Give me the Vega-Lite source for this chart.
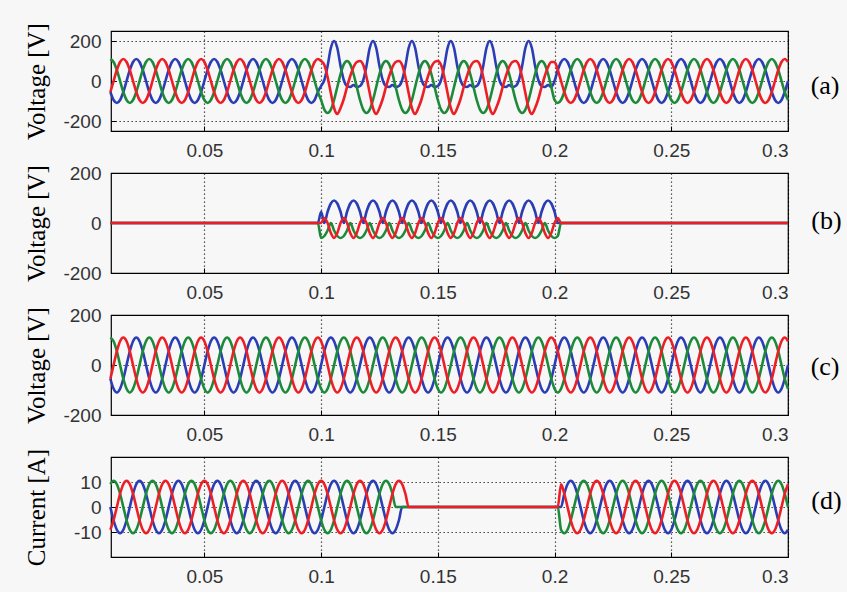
{
"$schema": "https://vega.github.io/schema/vega-lite/v6.json",
"background": "#f7f7f7",
"padding": {"left": 23, "top": 21, "right": 5, "bottom": 5},
"bounds": "flush",
"spacing": 42,
"config": {
  "view": {"stroke": "#000", "strokeWidth": 1.2},
  "axis": {"labelFont": "Liberation Sans", "labelFontSize": 19, "labelColor": "#333", "domain": false, "ticks": true, "tickColor": "#000", "tickSize": -5, "tickWidth": 1, "grid": true, "gridColor": "#000", "gridDash": [1.3, 2.7], "gridWidth": 1.2, "gridOpacity": 0.85, "titleFont": "Liberation Serif", "titleFontSize": 25, "titleFontWeight": "normal", "titleColor": "#000", "labelExpr": "'' + datum.value", "labelPadding": 15},
  "axisY": {"titleX": -62, "titleY": 50},
  "line": {"interpolate": "monotone", "strokeWidth": 2.6, "clip": true},
  "title": {"font": "Liberation Serif", "fontSize": 26, "fontWeight": "normal", "color": "#000", "orient": "right", "angle": 0, "align": "left", "baseline": "middle", "offset": 3, "anchor": "middle", "frame": "group"}
},
"datasets": {
"v": [
{"t":0.00972,"a":-55,"b":110,"c":-55,"g":-55,"h":110,"i":-55,"j":0,"k":9.1,"l":-9.1},
{"t":0.01111,"a":-95,"b":95,"c":0,"g":-95,"h":95,"i":0,"j":-5.3,"k":10.5,"l":-5.3},
{"t":0.0125,"a":-110,"b":55,"c":55,"g":-110,"h":55,"i":55,"j":-9.1,"k":9.1,"l":0},
{"t":0.01389,"a":-95,"b":0,"c":95,"g":-95,"h":0,"i":95,"j":-10.5,"k":5.3,"l":5.3},
{"t":0.01528,"a":-55,"b":-55,"c":110,"g":-55,"h":-55,"i":110,"j":-9.1,"k":0,"l":9.1},
{"t":0.01667,"a":0,"b":-95,"c":95,"g":0,"h":-95,"i":95,"j":-5.3,"k":-5.3,"l":10.5},
{"t":0.01806,"a":55,"b":-110,"c":55,"g":55,"h":-110,"i":55,"j":0,"k":-9.1,"l":9.1},
{"t":0.01944,"a":95,"b":-95,"c":0,"g":95,"h":-95,"i":0,"j":5.3,"k":-10.5,"l":5.3},
{"t":0.02083,"a":110,"b":-55,"c":-55,"g":110,"h":-55,"i":-55,"j":9.1,"k":-9.1,"l":0},
{"t":0.02222,"a":95,"b":0,"c":-95,"g":95,"h":0,"i":-95,"j":10.5,"k":-5.3,"l":-5.3},
{"t":0.02361,"a":55,"b":55,"c":-110,"g":55,"h":55,"i":-110,"j":9.1,"k":0,"l":-9.1},
{"t":0.025,"a":0,"b":95,"c":-95,"g":0,"h":95,"i":-95,"j":5.3,"k":5.3,"l":-10.5},
{"t":0.02639,"a":-55,"b":110,"c":-55,"g":-55,"h":110,"i":-55,"j":0,"k":9.1,"l":-9.1},
{"t":0.02778,"a":-95,"b":95,"c":0,"g":-95,"h":95,"i":0,"j":-5.3,"k":10.5,"l":-5.3},
{"t":0.02917,"a":-110,"b":55,"c":55,"g":-110,"h":55,"i":55,"j":-9.1,"k":9.1,"l":0},
{"t":0.03056,"a":-95,"b":0,"c":95,"g":-95,"h":0,"i":95,"j":-10.5,"k":5.3,"l":5.3},
{"t":0.03194,"a":-55,"b":-55,"c":110,"g":-55,"h":-55,"i":110,"j":-9.1,"k":0,"l":9.1},
{"t":0.03333,"a":0,"b":-95,"c":95,"g":0,"h":-95,"i":95,"j":-5.3,"k":-5.3,"l":10.5},
{"t":0.03472,"a":55,"b":-110,"c":55,"g":55,"h":-110,"i":55,"j":0,"k":-9.1,"l":9.1},
{"t":0.03611,"a":95,"b":-95,"c":0,"g":95,"h":-95,"i":0,"j":5.3,"k":-10.5,"l":5.3},
{"t":0.0375,"a":110,"b":-55,"c":-55,"g":110,"h":-55,"i":-55,"j":9.1,"k":-9.1,"l":0},
{"t":0.03889,"a":95,"b":0,"c":-95,"g":95,"h":0,"i":-95,"j":10.5,"k":-5.3,"l":-5.3},
{"t":0.04028,"a":55,"b":55,"c":-110,"g":55,"h":55,"i":-110,"j":9.1,"k":0,"l":-9.1},
{"t":0.04167,"a":0,"b":95,"c":-95,"g":0,"h":95,"i":-95,"j":5.3,"k":5.3,"l":-10.5},
{"t":0.04306,"a":-55,"b":110,"c":-55,"g":-55,"h":110,"i":-55,"j":0,"k":9.1,"l":-9.1},
{"t":0.04444,"a":-95,"b":95,"c":0,"g":-95,"h":95,"i":0,"j":-5.3,"k":10.5,"l":-5.3},
{"t":0.04583,"a":-110,"b":55,"c":55,"g":-110,"h":55,"i":55,"j":-9.1,"k":9.1,"l":0},
{"t":0.04722,"a":-95,"b":0,"c":95,"g":-95,"h":0,"i":95,"j":-10.5,"k":5.3,"l":5.3},
{"t":0.04861,"a":-55,"b":-55,"c":110,"g":-55,"h":-55,"i":110,"j":-9.1,"k":0,"l":9.1},
{"t":0.05,"a":0,"b":-95,"c":95,"g":0,"h":-95,"i":95,"j":-5.3,"k":-5.3,"l":10.5},
{"t":0.05139,"a":55,"b":-110,"c":55,"g":55,"h":-110,"i":55,"j":0,"k":-9.1,"l":9.1},
{"t":0.05278,"a":95,"b":-95,"c":0,"g":95,"h":-95,"i":0,"j":5.3,"k":-10.5,"l":5.3},
{"t":0.05417,"a":110,"b":-55,"c":-55,"g":110,"h":-55,"i":-55,"j":9.1,"k":-9.1,"l":0},
{"t":0.05556,"a":95,"b":0,"c":-95,"g":95,"h":0,"i":-95,"j":10.5,"k":-5.3,"l":-5.3},
{"t":0.05694,"a":55,"b":55,"c":-110,"g":55,"h":55,"i":-110,"j":9.1,"k":0,"l":-9.1},
{"t":0.05833,"a":0,"b":95,"c":-95,"g":0,"h":95,"i":-95,"j":5.3,"k":5.3,"l":-10.5},
{"t":0.05972,"a":-55,"b":110,"c":-55,"g":-55,"h":110,"i":-55,"j":0,"k":9.1,"l":-9.1},
{"t":0.06111,"a":-95,"b":95,"c":0,"g":-95,"h":95,"i":0,"j":-5.3,"k":10.5,"l":-5.3},
{"t":0.0625,"a":-110,"b":55,"c":55,"g":-110,"h":55,"i":55,"j":-9.1,"k":9.1,"l":0},
{"t":0.06389,"a":-95,"b":0,"c":95,"g":-95,"h":0,"i":95,"j":-10.5,"k":5.3,"l":5.3},
{"t":0.06528,"a":-55,"b":-55,"c":110,"g":-55,"h":-55,"i":110,"j":-9.1,"k":0,"l":9.1},
{"t":0.06667,"a":0,"b":-95,"c":95,"g":0,"h":-95,"i":95,"j":-5.3,"k":-5.3,"l":10.5},
{"t":0.06806,"a":55,"b":-110,"c":55,"g":55,"h":-110,"i":55,"j":0,"k":-9.1,"l":9.1},
{"t":0.06944,"a":95,"b":-95,"c":0,"g":95,"h":-95,"i":0,"j":5.3,"k":-10.5,"l":5.3},
{"t":0.07083,"a":110,"b":-55,"c":-55,"g":110,"h":-55,"i":-55,"j":9.1,"k":-9.1,"l":0},
{"t":0.07222,"a":95,"b":0,"c":-95,"g":95,"h":0,"i":-95,"j":10.5,"k":-5.3,"l":-5.3},
{"t":0.07361,"a":55,"b":55,"c":-110,"g":55,"h":55,"i":-110,"j":9.1,"k":0,"l":-9.1},
{"t":0.075,"a":0,"b":95,"c":-95,"g":0,"h":95,"i":-95,"j":5.3,"k":5.3,"l":-10.5},
{"t":0.07639,"a":-55,"b":110,"c":-55,"g":-55,"h":110,"i":-55,"j":0,"k":9.1,"l":-9.1},
{"t":0.07778,"a":-95,"b":95,"c":0,"g":-95,"h":95,"i":0,"j":-5.3,"k":10.5,"l":-5.3},
{"t":0.07917,"a":-110,"b":55,"c":55,"g":-110,"h":55,"i":55,"j":-9.1,"k":9.1,"l":0},
{"t":0.08056,"a":-95,"b":0,"c":95,"g":-95,"h":0,"i":95,"j":-10.5,"k":5.3,"l":5.3},
{"t":0.08194,"a":-55,"b":-55,"c":110,"g":-55,"h":-55,"i":110,"j":-9.1,"k":0,"l":9.1},
{"t":0.08333,"a":0,"b":-95,"c":95,"g":0,"h":-95,"i":95,"j":-5.3,"k":-5.3,"l":10.5},
{"t":0.08472,"a":55,"b":-110,"c":55,"g":55,"h":-110,"i":55,"j":0,"k":-9.1,"l":9.1},
{"t":0.08611,"a":95,"b":-95,"c":0,"g":95,"h":-95,"i":0,"j":5.3,"k":-10.5,"l":5.3},
{"t":0.0875,"a":110,"b":-55,"c":-55,"g":110,"h":-55,"i":-55,"j":9.1,"k":-9.1,"l":0},
{"t":0.08889,"a":95,"b":0,"c":-95,"g":95,"h":0,"i":-95,"j":10.5,"k":-5.3,"l":-5.3},
{"t":0.09028,"a":55,"b":55,"c":-110,"g":55,"h":55,"i":-110,"j":9.1,"k":0,"l":-9.1},
{"t":0.09167,"a":0,"b":95,"c":-95,"g":0,"h":95,"i":-95,"j":5.3,"k":5.3,"l":-10.5},
{"t":0.09306,"a":-55,"b":110,"c":-55,"g":-55,"h":110,"i":-55,"j":0,"k":9.1,"l":-9.1},
{"t":0.09444,"a":-95,"b":95,"c":0,"g":-95,"h":95,"i":0,"j":-5.3,"k":10.5,"l":-5.3},
{"t":0.09583,"a":-110,"b":55,"c":55,"g":-110,"h":55,"i":55,"j":-9.1,"k":9.1,"l":0},
{"t":0.09722,"a":-95,"b":0,"c":95,"g":-95,"h":0,"i":95,"j":-10.5,"k":5.3,"l":5.3},
{"t":0.09861,"a":-55,"b":-55,"c":110,"g":-55,"h":-55,"i":110,"j":-9.1,"k":0,"l":9.1},
{"t":0.1,"a":-25,"b":-95,"c":100,"g":0,"h":-95,"i":95,"j":-5.3,"k":-5.3,"l":10.5},
{"t":0.10139,"a":5,"b":-143,"c":80,"g":55,"h":-110,"i":55,"j":0,"k":-9.1,"l":9.1},
{"t":0.10278,"a":75,"b":-160,"c":20,"g":95,"h":-95,"i":0,"j":5.3,"k":-10.5,"l":5.3},
{"t":0.10417,"a":165,"b":-143,"c":-60,"g":110,"h":-55,"i":-55,"j":9.1,"k":-9.1,"l":0},
{"t":0.10556,"a":200,"b":-95,"c":-135,"g":95,"h":0,"i":-95,"j":10.5,"k":-5.3,"l":-5.3},
{"t":0.10694,"a":165,"b":-30,"c":-165,"g":55,"h":55,"i":-110,"j":9.1,"k":0,"l":-9.1},
{"t":0.10833,"a":75,"b":35,"c":-135,"g":0,"h":95,"i":-95,"j":5.3,"k":5.3,"l":-10.5},
{"t":0.10972,"a":5,"b":83,"c":-90,"g":-55,"h":110,"i":-55,"j":0,"k":9.1,"l":-9.1},
{"t":0.11111,"a":-25,"b":100,"c":-30,"g":-95,"h":95,"i":0,"j":-5.3,"k":10.5,"l":-5.3},
{"t":0.1125,"a":-30,"b":83,"c":25,"g":-110,"h":55,"i":55,"j":-9.1,"k":9.1,"l":0},
{"t":0.11389,"a":-20,"b":35,"c":70,"g":-95,"h":0,"i":95,"j":-10.5,"k":5.3,"l":5.3},
{"t":0.11528,"a":-30,"b":-30,"c":95,"g":-55,"h":-55,"i":110,"j":-9.1,"k":0,"l":9.1},
{"t":0.11667,"a":-25,"b":-95,"c":100,"g":0,"h":-95,"i":95,"j":-5.3,"k":-5.3,"l":10.5},
{"t":0.11806,"a":5,"b":-143,"c":80,"g":55,"h":-110,"i":55,"j":0,"k":-9.1,"l":9.1},
{"t":0.11944,"a":75,"b":-160,"c":20,"g":95,"h":-95,"i":0,"j":5.3,"k":-10.5,"l":5.3},
{"t":0.12083,"a":165,"b":-143,"c":-60,"g":110,"h":-55,"i":-55,"j":9.1,"k":-9.1,"l":0},
{"t":0.12222,"a":200,"b":-95,"c":-135,"g":95,"h":0,"i":-95,"j":10.5,"k":-5.3,"l":-5.3},
{"t":0.12361,"a":165,"b":-30,"c":-165,"g":55,"h":55,"i":-110,"j":9.1,"k":0,"l":-9.1},
{"t":0.125,"a":75,"b":35,"c":-135,"g":0,"h":95,"i":-95,"j":5.3,"k":5.3,"l":-10.5},
{"t":0.12639,"a":5,"b":83,"c":-90,"g":-55,"h":110,"i":-55,"j":0,"k":9.1,"l":-9.1},
{"t":0.12778,"a":-25,"b":100,"c":-30,"g":-95,"h":95,"i":0,"j":-5.3,"k":10.5,"l":-5.3},
{"t":0.12917,"a":-30,"b":83,"c":25,"g":-110,"h":55,"i":55,"j":-9.1,"k":9.1,"l":0},
{"t":0.13056,"a":-20,"b":35,"c":70,"g":-95,"h":0,"i":95,"j":-10.5,"k":5.3,"l":5.3},
{"t":0.13194,"a":-30,"b":-30,"c":95,"g":-55,"h":-55,"i":110,"j":-9.1,"k":0,"l":9.1},
{"t":0.13333,"a":-25,"b":-95,"c":100,"g":0,"h":-95,"i":95,"j":-5.3,"k":0,"l":10.5},
{"t":0.13472,"a":5,"b":-143,"c":80,"g":55,"h":-110,"i":55,"j":0,"k":0,"l":9.1},
{"t":0.13611,"a":75,"b":-160,"c":20,"g":95,"h":-95,"i":0,"j":0,"k":0,"l":5.3},
{"t":0.1375,"a":165,"b":-143,"c":-60,"g":110,"h":-55,"i":-55,"j":0,"k":0,"l":0},
{"t":0.13889,"a":200,"b":-95,"c":-135,"g":95,"h":0,"i":-95,"j":0,"k":0,"l":0},
{"t":0.14028,"a":165,"b":-30,"c":-165,"g":55,"h":55,"i":-110,"j":0,"k":0,"l":0},
{"t":0.14167,"a":75,"b":35,"c":-135,"g":0,"h":95,"i":-95,"j":0,"k":0,"l":0},
{"t":0.14306,"a":5,"b":83,"c":-90,"g":-55,"h":110,"i":-55,"j":0,"k":0,"l":0},
{"t":0.14444,"a":-25,"b":100,"c":-30,"g":-95,"h":95,"i":0,"j":0,"k":0,"l":0},
{"t":0.14583,"a":-30,"b":83,"c":25,"g":-110,"h":55,"i":55,"j":0,"k":0,"l":0},
{"t":0.14722,"a":-20,"b":35,"c":70,"g":-95,"h":0,"i":95,"j":0,"k":0,"l":0},
{"t":0.14861,"a":-30,"b":-30,"c":95,"g":-55,"h":-55,"i":110,"j":0,"k":0,"l":0},
{"t":0.15,"a":-25,"b":-95,"c":100,"g":0,"h":-95,"i":95,"j":0,"k":0,"l":0},
{"t":0.15139,"a":5,"b":-143,"c":80,"g":55,"h":-110,"i":55,"j":0,"k":0,"l":0},
{"t":0.15278,"a":75,"b":-160,"c":20,"g":95,"h":-95,"i":0,"j":0,"k":0,"l":0},
{"t":0.15417,"a":165,"b":-143,"c":-60,"g":110,"h":-55,"i":-55,"j":0,"k":0,"l":0},
{"t":0.15556,"a":200,"b":-95,"c":-135,"g":95,"h":0,"i":-95,"j":0,"k":0,"l":0},
{"t":0.15694,"a":165,"b":-30,"c":-165,"g":55,"h":55,"i":-110,"j":0,"k":0,"l":0},
{"t":0.15833,"a":75,"b":35,"c":-135,"g":0,"h":95,"i":-95,"j":0,"k":0,"l":0},
{"t":0.15972,"a":5,"b":83,"c":-90,"g":-55,"h":110,"i":-55,"j":0,"k":0,"l":0},
{"t":0.16111,"a":-25,"b":100,"c":-30,"g":-95,"h":95,"i":0,"j":0,"k":0,"l":0},
{"t":0.1625,"a":-30,"b":83,"c":25,"g":-110,"h":55,"i":55,"j":0,"k":0,"l":0},
{"t":0.16389,"a":-20,"b":35,"c":70,"g":-95,"h":0,"i":95,"j":0,"k":0,"l":0},
{"t":0.16528,"a":-30,"b":-30,"c":95,"g":-55,"h":-55,"i":110,"j":0,"k":0,"l":0},
{"t":0.16667,"a":-25,"b":-95,"c":100,"g":0,"h":-95,"i":95,"j":0,"k":0,"l":0},
{"t":0.16806,"a":5,"b":-143,"c":80,"g":55,"h":-110,"i":55,"j":0,"k":0,"l":0},
{"t":0.16944,"a":75,"b":-160,"c":20,"g":95,"h":-95,"i":0,"j":0,"k":0,"l":0},
{"t":0.17083,"a":165,"b":-143,"c":-60,"g":110,"h":-55,"i":-55,"j":0,"k":0,"l":0},
{"t":0.17222,"a":200,"b":-95,"c":-135,"g":95,"h":0,"i":-95,"j":0,"k":0,"l":0},
{"t":0.17361,"a":165,"b":-30,"c":-165,"g":55,"h":55,"i":-110,"j":0,"k":0,"l":0},
{"t":0.175,"a":75,"b":35,"c":-135,"g":0,"h":95,"i":-95,"j":0,"k":0,"l":0},
{"t":0.17639,"a":5,"b":83,"c":-90,"g":-55,"h":110,"i":-55,"j":0,"k":0,"l":0},
{"t":0.17778,"a":-25,"b":100,"c":-30,"g":-95,"h":95,"i":0,"j":0,"k":0,"l":0},
{"t":0.17917,"a":-30,"b":83,"c":25,"g":-110,"h":55,"i":55,"j":0,"k":0,"l":0},
{"t":0.18056,"a":-20,"b":35,"c":70,"g":-95,"h":0,"i":95,"j":0,"k":0,"l":0},
{"t":0.18194,"a":-30,"b":-30,"c":95,"g":-55,"h":-55,"i":110,"j":0,"k":0,"l":0},
{"t":0.18333,"a":-25,"b":-95,"c":100,"g":0,"h":-95,"i":95,"j":0,"k":0,"l":0},
{"t":0.18472,"a":5,"b":-143,"c":80,"g":55,"h":-110,"i":55,"j":0,"k":0,"l":0},
{"t":0.18611,"a":75,"b":-160,"c":20,"g":95,"h":-95,"i":0,"j":0,"k":0,"l":0},
{"t":0.1875,"a":165,"b":-143,"c":-60,"g":110,"h":-55,"i":-55,"j":0,"k":0,"l":0},
{"t":0.18889,"a":200,"b":-95,"c":-135,"g":95,"h":0,"i":-95,"j":0,"k":0,"l":0},
{"t":0.19028,"a":165,"b":-30,"c":-165,"g":55,"h":55,"i":-110,"j":0,"k":0,"l":0},
{"t":0.19167,"a":75,"b":35,"c":-135,"g":0,"h":95,"i":-95,"j":0,"k":0,"l":0},
{"t":0.19306,"a":5,"b":83,"c":-90,"g":-55,"h":110,"i":-55,"j":0,"k":0,"l":0},
{"t":0.19444,"a":-25,"b":100,"c":-30,"g":-95,"h":95,"i":0,"j":0,"k":0,"l":0},
{"t":0.19583,"a":-30,"b":83,"c":25,"g":-110,"h":55,"i":55,"j":0,"k":0,"l":0},
{"t":0.19722,"a":-20,"b":35,"c":70,"g":-95,"h":0,"i":95,"j":0,"k":0,"l":0},
{"t":0.19861,"a":-30,"b":-30,"c":95,"g":-55,"h":-55,"i":110,"j":0,"k":0,"l":0},
{"t":0.2,"a":0,"b":-95,"c":95,"g":0,"h":-95,"i":95,"j":0,"k":0,"l":0},
{"t":0.20139,"a":55,"b":-110,"c":55,"g":55,"h":-110,"i":55,"j":0,"k":0,"l":0},
{"t":0.20278,"a":95,"b":-95,"c":0,"g":95,"h":-95,"i":0,"j":0,"k":-9.1,"l":9.1},
{"t":0.20417,"a":110,"b":-55,"c":-55,"g":110,"h":-55,"i":-55,"j":5.3,"k":-10.5,"l":5.3},
{"t":0.20556,"a":95,"b":0,"c":-95,"g":95,"h":0,"i":-95,"j":9.1,"k":-9.1,"l":0},
{"t":0.20694,"a":55,"b":55,"c":-110,"g":55,"h":55,"i":-110,"j":10.5,"k":-5.3,"l":-5.3},
{"t":0.20833,"a":0,"b":95,"c":-95,"g":0,"h":95,"i":-95,"j":9.1,"k":0,"l":-9.1},
{"t":0.20972,"a":-55,"b":110,"c":-55,"g":-55,"h":110,"i":-55,"j":5.3,"k":5.3,"l":-10.5},
{"t":0.21111,"a":-95,"b":95,"c":0,"g":-95,"h":95,"i":0,"j":0,"k":9.1,"l":-9.1},
{"t":0.2125,"a":-110,"b":55,"c":55,"g":-110,"h":55,"i":55,"j":-5.3,"k":10.5,"l":-5.3},
{"t":0.21389,"a":-95,"b":0,"c":95,"g":-95,"h":0,"i":95,"j":-9.1,"k":9.1,"l":0},
{"t":0.21528,"a":-55,"b":-55,"c":110,"g":-55,"h":-55,"i":110,"j":-10.5,"k":5.3,"l":5.3},
{"t":0.21667,"a":0,"b":-95,"c":95,"g":0,"h":-95,"i":95,"j":-9.1,"k":0,"l":9.1},
{"t":0.21806,"a":55,"b":-110,"c":55,"g":55,"h":-110,"i":55,"j":-5.3,"k":-5.3,"l":10.5},
{"t":0.21944,"a":95,"b":-95,"c":0,"g":95,"h":-95,"i":0,"j":0,"k":-9.1,"l":9.1},
{"t":0.22083,"a":110,"b":-55,"c":-55,"g":110,"h":-55,"i":-55,"j":5.3,"k":-10.5,"l":5.3},
{"t":0.22222,"a":95,"b":0,"c":-95,"g":95,"h":0,"i":-95,"j":9.1,"k":-9.1,"l":0},
{"t":0.22361,"a":55,"b":55,"c":-110,"g":55,"h":55,"i":-110,"j":10.5,"k":-5.3,"l":-5.3},
{"t":0.225,"a":0,"b":95,"c":-95,"g":0,"h":95,"i":-95,"j":9.1,"k":0,"l":-9.1},
{"t":0.22639,"a":-55,"b":110,"c":-55,"g":-55,"h":110,"i":-55,"j":5.3,"k":5.3,"l":-10.5},
{"t":0.22778,"a":-95,"b":95,"c":0,"g":-95,"h":95,"i":0,"j":0,"k":9.1,"l":-9.1},
{"t":0.22917,"a":-110,"b":55,"c":55,"g":-110,"h":55,"i":55,"j":-5.3,"k":10.5,"l":-5.3},
{"t":0.23056,"a":-95,"b":0,"c":95,"g":-95,"h":0,"i":95,"j":-9.1,"k":9.1,"l":0},
{"t":0.23194,"a":-55,"b":-55,"c":110,"g":-55,"h":-55,"i":110,"j":-10.5,"k":5.3,"l":5.3},
{"t":0.23333,"a":0,"b":-95,"c":95,"g":0,"h":-95,"i":95,"j":-9.1,"k":0,"l":9.1},
{"t":0.23472,"a":55,"b":-110,"c":55,"g":55,"h":-110,"i":55,"j":-5.3,"k":-5.3,"l":10.5},
{"t":0.23611,"a":95,"b":-95,"c":0,"g":95,"h":-95,"i":0,"j":0,"k":-9.1,"l":9.1},
{"t":0.2375,"a":110,"b":-55,"c":-55,"g":110,"h":-55,"i":-55,"j":5.3,"k":-10.5,"l":5.3},
{"t":0.23889,"a":95,"b":0,"c":-95,"g":95,"h":0,"i":-95,"j":9.1,"k":-9.1,"l":0},
{"t":0.24028,"a":55,"b":55,"c":-110,"g":55,"h":55,"i":-110,"j":10.5,"k":-5.3,"l":-5.3},
{"t":0.24167,"a":0,"b":95,"c":-95,"g":0,"h":95,"i":-95,"j":9.1,"k":0,"l":-9.1},
{"t":0.24306,"a":-55,"b":110,"c":-55,"g":-55,"h":110,"i":-55,"j":5.3,"k":5.3,"l":-10.5},
{"t":0.24444,"a":-95,"b":95,"c":0,"g":-95,"h":95,"i":0,"j":0,"k":9.1,"l":-9.1},
{"t":0.24583,"a":-110,"b":55,"c":55,"g":-110,"h":55,"i":55,"j":-5.3,"k":10.5,"l":-5.3},
{"t":0.24722,"a":-95,"b":0,"c":95,"g":-95,"h":0,"i":95,"j":-9.1,"k":9.1,"l":0},
{"t":0.24861,"a":-55,"b":-55,"c":110,"g":-55,"h":-55,"i":110,"j":-10.5,"k":5.3,"l":5.3},
{"t":0.25,"a":0,"b":-95,"c":95,"g":0,"h":-95,"i":95,"j":-9.1,"k":0,"l":9.1},
{"t":0.25139,"a":55,"b":-110,"c":55,"g":55,"h":-110,"i":55,"j":-5.3,"k":-5.3,"l":10.5},
{"t":0.25278,"a":95,"b":-95,"c":0,"g":95,"h":-95,"i":0,"j":0,"k":-9.1,"l":9.1},
{"t":0.25417,"a":110,"b":-55,"c":-55,"g":110,"h":-55,"i":-55,"j":5.3,"k":-10.5,"l":5.3},
{"t":0.25556,"a":95,"b":0,"c":-95,"g":95,"h":0,"i":-95,"j":9.1,"k":-9.1,"l":0},
{"t":0.25694,"a":55,"b":55,"c":-110,"g":55,"h":55,"i":-110,"j":10.5,"k":-5.3,"l":-5.3},
{"t":0.25833,"a":0,"b":95,"c":-95,"g":0,"h":95,"i":-95,"j":9.1,"k":0,"l":-9.1},
{"t":0.25972,"a":-55,"b":110,"c":-55,"g":-55,"h":110,"i":-55,"j":5.3,"k":5.3,"l":-10.5},
{"t":0.26111,"a":-95,"b":95,"c":0,"g":-95,"h":95,"i":0,"j":0,"k":9.1,"l":-9.1},
{"t":0.2625,"a":-110,"b":55,"c":55,"g":-110,"h":55,"i":55,"j":-5.3,"k":10.5,"l":-5.3},
{"t":0.26389,"a":-95,"b":0,"c":95,"g":-95,"h":0,"i":95,"j":-9.1,"k":9.1,"l":0},
{"t":0.26528,"a":-55,"b":-55,"c":110,"g":-55,"h":-55,"i":110,"j":-10.5,"k":5.3,"l":5.3},
{"t":0.26667,"a":0,"b":-95,"c":95,"g":0,"h":-95,"i":95,"j":-9.1,"k":0,"l":9.1},
{"t":0.26806,"a":55,"b":-110,"c":55,"g":55,"h":-110,"i":55,"j":-5.3,"k":-5.3,"l":10.5},
{"t":0.26944,"a":95,"b":-95,"c":0,"g":95,"h":-95,"i":0,"j":0,"k":-9.1,"l":9.1},
{"t":0.27083,"a":110,"b":-55,"c":-55,"g":110,"h":-55,"i":-55,"j":5.3,"k":-10.5,"l":5.3},
{"t":0.27222,"a":95,"b":0,"c":-95,"g":95,"h":0,"i":-95,"j":9.1,"k":-9.1,"l":0},
{"t":0.27361,"a":55,"b":55,"c":-110,"g":55,"h":55,"i":-110,"j":10.5,"k":-5.3,"l":-5.3},
{"t":0.275,"a":0,"b":95,"c":-95,"g":0,"h":95,"i":-95,"j":9.1,"k":0,"l":-9.1},
{"t":0.27639,"a":-55,"b":110,"c":-55,"g":-55,"h":110,"i":-55,"j":5.3,"k":5.3,"l":-10.5},
{"t":0.27778,"a":-95,"b":95,"c":0,"g":-95,"h":95,"i":0,"j":0,"k":9.1,"l":-9.1},
{"t":0.27917,"a":-110,"b":55,"c":55,"g":-110,"h":55,"i":55,"j":-5.3,"k":10.5,"l":-5.3},
{"t":0.28056,"a":-95,"b":0,"c":95,"g":-95,"h":0,"i":95,"j":-9.1,"k":9.1,"l":0},
{"t":0.28194,"a":-55,"b":-55,"c":110,"g":-55,"h":-55,"i":110,"j":-10.5,"k":5.3,"l":5.3},
{"t":0.28333,"a":0,"b":-95,"c":95,"g":0,"h":-95,"i":95,"j":-9.1,"k":0,"l":9.1},
{"t":0.28472,"a":55,"b":-110,"c":55,"g":55,"h":-110,"i":55,"j":-5.3,"k":-5.3,"l":10.5},
{"t":0.28611,"a":95,"b":-95,"c":0,"g":95,"h":-95,"i":0,"j":0,"k":-9.1,"l":9.1},
{"t":0.2875,"a":110,"b":-55,"c":-55,"g":110,"h":-55,"i":-55,"j":5.3,"k":-10.5,"l":5.3},
{"t":0.28889,"a":95,"b":0,"c":-95,"g":95,"h":0,"i":-95,"j":9.1,"k":-9.1,"l":0},
{"t":0.29028,"a":55,"b":55,"c":-110,"g":55,"h":55,"i":-110,"j":10.5,"k":-5.3,"l":-5.3},
{"t":0.29167,"a":0,"b":95,"c":-95,"g":0,"h":95,"i":-95,"j":9.1,"k":0,"l":-9.1},
{"t":0.29306,"a":-55,"b":110,"c":-55,"g":-55,"h":110,"i":-55,"j":5.3,"k":5.3,"l":-10.5},
{"t":0.29444,"a":-95,"b":95,"c":0,"g":-95,"h":95,"i":0,"j":0,"k":9.1,"l":-9.1},
{"t":0.29583,"a":-110,"b":55,"c":55,"g":-110,"h":55,"i":55,"j":-5.3,"k":10.5,"l":-5.3},
{"t":0.29722,"a":-95,"b":0,"c":95,"g":-95,"h":0,"i":95,"j":-9.1,"k":9.1,"l":0},
{"t":0.29861,"a":-55,"b":-55,"c":110,"g":-55,"h":-55,"i":110,"j":-10.5,"k":5.3,"l":5.3},
{"t":0.3,"a":0,"b":-95,"c":95,"g":0,"h":-95,"i":95,"j":-9.1,"k":0,"l":9.1}
],
"f": [
{"t":0.00972,"d":0,"e":0,"f":0},
{"t":0.09861,"d":0,"e":0,"f":0},
{"t":0.1,"d":45,"e":-60,"f":0},
{"t":0.10139,"d":0,"e":-52,"f":20},
{"t":0.10278,"d":45,"e":-30,"f":0},
{"t":0.10417,"d":78,"e":0,"f":-40},
{"t":0.10556,"d":90,"e":-30,"f":-60},
{"t":0.10694,"d":78,"e":-52,"f":-40},
{"t":0.10833,"d":45,"e":-60,"f":0},
{"t":0.10972,"d":0,"e":-52,"f":20},
{"t":0.11111,"d":45,"e":-30,"f":0},
{"t":0.1125,"d":78,"e":0,"f":-40},
{"t":0.11389,"d":90,"e":-30,"f":-60},
{"t":0.11528,"d":78,"e":-52,"f":-40},
{"t":0.11667,"d":45,"e":-60,"f":0},
{"t":0.11806,"d":0,"e":-52,"f":20},
{"t":0.11944,"d":45,"e":-30,"f":0},
{"t":0.12083,"d":78,"e":0,"f":-40},
{"t":0.12222,"d":90,"e":-30,"f":-60},
{"t":0.12361,"d":78,"e":-52,"f":-40},
{"t":0.125,"d":45,"e":-60,"f":0},
{"t":0.12639,"d":0,"e":-52,"f":20},
{"t":0.12778,"d":45,"e":-30,"f":0},
{"t":0.12917,"d":78,"e":0,"f":-40},
{"t":0.13056,"d":90,"e":-30,"f":-60},
{"t":0.13194,"d":78,"e":-52,"f":-40},
{"t":0.13333,"d":45,"e":-60,"f":0},
{"t":0.13472,"d":0,"e":-52,"f":20},
{"t":0.13611,"d":45,"e":-30,"f":0},
{"t":0.1375,"d":78,"e":0,"f":-40},
{"t":0.13889,"d":90,"e":-30,"f":-60},
{"t":0.14028,"d":78,"e":-52,"f":-40},
{"t":0.14167,"d":45,"e":-60,"f":0},
{"t":0.14306,"d":0,"e":-52,"f":20},
{"t":0.14444,"d":45,"e":-30,"f":0},
{"t":0.14583,"d":78,"e":0,"f":-40},
{"t":0.14722,"d":90,"e":-30,"f":-60},
{"t":0.14861,"d":78,"e":-52,"f":-40},
{"t":0.15,"d":45,"e":-60,"f":0},
{"t":0.15139,"d":0,"e":-52,"f":20},
{"t":0.15278,"d":45,"e":-30,"f":0},
{"t":0.15417,"d":78,"e":0,"f":-40},
{"t":0.15556,"d":90,"e":-30,"f":-60},
{"t":0.15694,"d":78,"e":-52,"f":-40},
{"t":0.15833,"d":45,"e":-60,"f":0},
{"t":0.15972,"d":0,"e":-52,"f":20},
{"t":0.16111,"d":45,"e":-30,"f":0},
{"t":0.1625,"d":78,"e":0,"f":-40},
{"t":0.16389,"d":90,"e":-30,"f":-60},
{"t":0.16528,"d":78,"e":-52,"f":-40},
{"t":0.16667,"d":45,"e":-60,"f":0},
{"t":0.16806,"d":0,"e":-52,"f":20},
{"t":0.16944,"d":45,"e":-30,"f":0},
{"t":0.17083,"d":78,"e":0,"f":-40},
{"t":0.17222,"d":90,"e":-30,"f":-60},
{"t":0.17361,"d":78,"e":-52,"f":-40},
{"t":0.175,"d":45,"e":-60,"f":0},
{"t":0.17639,"d":0,"e":-52,"f":20},
{"t":0.17778,"d":45,"e":-30,"f":0},
{"t":0.17917,"d":78,"e":0,"f":-40},
{"t":0.18056,"d":90,"e":-30,"f":-60},
{"t":0.18194,"d":78,"e":-52,"f":-40},
{"t":0.18333,"d":45,"e":-60,"f":0},
{"t":0.18472,"d":0,"e":-52,"f":20},
{"t":0.18611,"d":45,"e":-30,"f":0},
{"t":0.1875,"d":78,"e":0,"f":-40},
{"t":0.18889,"d":90,"e":-30,"f":-60},
{"t":0.19028,"d":78,"e":-52,"f":-40},
{"t":0.19167,"d":45,"e":-60,"f":0},
{"t":0.19306,"d":0,"e":-52,"f":20},
{"t":0.19444,"d":45,"e":-30,"f":0},
{"t":0.19583,"d":78,"e":0,"f":-40},
{"t":0.19722,"d":90,"e":-30,"f":-60},
{"t":0.19861,"d":78,"e":-52,"f":-40},
{"t":0.2,"d":45,"e":-60,"f":0},
{"t":0.20139,"d":0,"e":-52,"f":20},
{"t":0.20278,"d":0,"e":0,"f":0},
{"t":0.3,"d":0,"e":0,"f":0}
]
},
"vconcat": [
{
 "width": 677, "height": 100,
 "data": {"name": "v"},
 "title": {"text": "(a)", "dy": -8},
 "encoding": {"x": {"field": "t", "type": "quantitative", "title": null, "scale": {"domain": [0.01, 0.3]}, "axis": {"values": [0.05, 0.1, 0.15, 0.2, 0.25, 0.3]}}},
 "layer": [
  {"mark": {"type": "line", "color": "#2a3db5"}, "encoding": {"y": {"field": "a", "type": "quantitative", "title": "Voltage [V]", "scale": {"domain": [-250, 250]}, "axis": {"values": [-200, 0, 200]}}}},
  {"mark": {"type": "line", "color": "#1d8a3a"}, "encoding": {"y": {"field": "b", "type": "quantitative", "title": "Voltage [V]"}}},
  {"mark": {"type": "line", "color": "#ec1f26"}, "encoding": {"y": {"field": "c", "type": "quantitative", "title": "Voltage [V]"}}}
 ]
},
{
 "width": 677, "height": 100,
 "data": {"name": "f"},
 "title": {"text": "(b)", "dy": -15},
 "encoding": {"x": {"field": "t", "type": "quantitative", "title": null, "scale": {"domain": [0.01, 0.3]}, "axis": {"values": [0.05, 0.1, 0.15, 0.2, 0.25, 0.3]}}},
 "layer": [
  {"mark": {"type": "line", "color": "#2a3db5"}, "encoding": {"y": {"field": "d", "type": "quantitative", "title": "Voltage [V]", "scale": {"domain": [-200, 200]}, "axis": {"values": [-200, 0, 200]}}}},
  {"mark": {"type": "line", "color": "#1d8a3a"}, "encoding": {"y": {"field": "e", "type": "quantitative", "title": "Voltage [V]"}}},
  {"mark": {"type": "line", "color": "#ec1f26"}, "encoding": {"y": {"field": "f", "type": "quantitative", "title": "Voltage [V]"}}}
 ]
},
{
 "width": 677, "height": 100,
 "data": {"name": "v"},
 "title": {"text": "(c)", "dy": -11},
 "encoding": {"x": {"field": "t", "type": "quantitative", "title": null, "scale": {"domain": [0.01, 0.3]}, "axis": {"values": [0.05, 0.1, 0.15, 0.2, 0.25, 0.3]}}},
 "layer": [
  {"mark": {"type": "line", "color": "#2a3db5"}, "encoding": {"y": {"field": "g", "type": "quantitative", "title": "Voltage [V]", "scale": {"domain": [-200, 200]}, "axis": {"values": [-200, 0, 200]}}}},
  {"mark": {"type": "line", "color": "#1d8a3a"}, "encoding": {"y": {"field": "h", "type": "quantitative", "title": "Voltage [V]"}}},
  {"mark": {"type": "line", "color": "#ec1f26"}, "encoding": {"y": {"field": "i", "type": "quantitative", "title": "Voltage [V]"}}}
 ]
},
{
 "width": 677, "height": 100,
 "data": {"name": "v"},
 "title": {"text": "(d)", "dy": -19},
 "encoding": {"x": {"field": "t", "type": "quantitative", "title": null, "scale": {"domain": [0.01, 0.3]}, "axis": {"values": [0.05, 0.1, 0.15, 0.2, 0.25, 0.3]}}},
 "layer": [
  {"mark": {"type": "line", "color": "#2a3db5"}, "encoding": {"y": {"field": "j", "type": "quantitative", "title": "Current [A]", "scale": {"domain": [-15, 15]}, "axis": {"values": [-10, 0, 10]}}}},
  {"mark": {"type": "line", "color": "#1d8a3a"}, "encoding": {"y": {"field": "k", "type": "quantitative", "title": "Current [A]"}}},
  {"mark": {"type": "line", "color": "#ec1f26"}, "encoding": {"y": {"field": "l", "type": "quantitative", "title": "Current [A]"}}}
 ]
}
]
}
